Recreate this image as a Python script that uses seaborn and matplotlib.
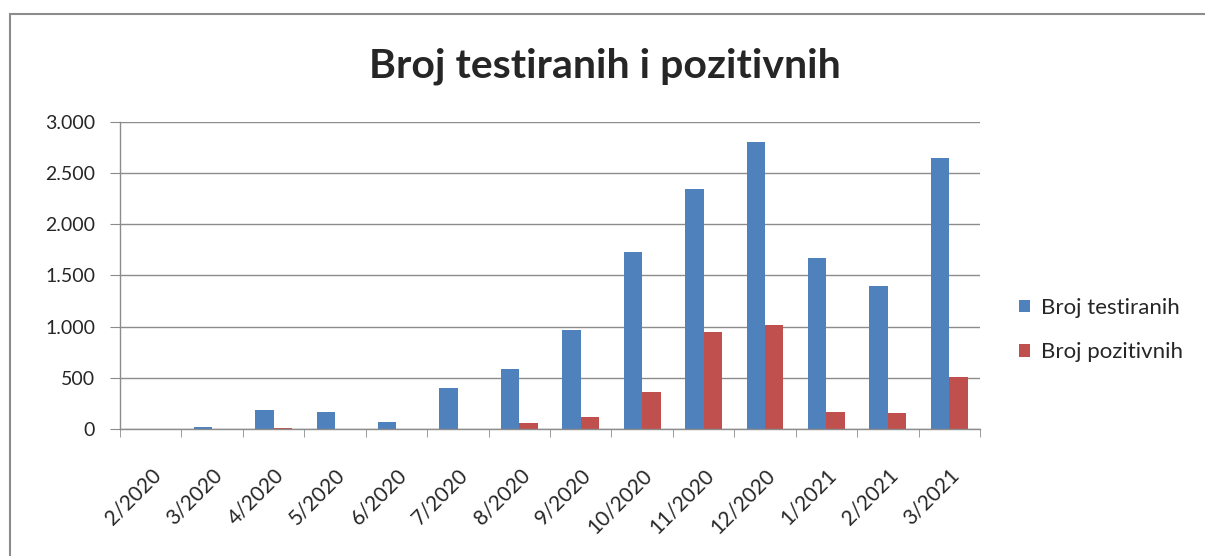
import matplotlib
matplotlib.use("Agg")
import matplotlib.pyplot as plt
import numpy as np
import pandas as pd
import seaborn as sns
from matplotlib.patches import Rectangle
from matplotlib.ticker import FixedLocator, FuncFormatter

months = ["2/2020", "3/2020", "4/2020", "5/2020", "6/2020", "7/2020", "8/2020",
          "9/2020", "10/2020", "11/2020", "12/2020", "1/2021", "2/2021", "3/2021"]
testirani = [0, 15, 185, 163, 65, 403, 586, 967, 1726, 2342, 2807, 1668, 1400, 2651]
pozitivni = [0, 2, 12, 3, 2, 3, 55, 120, 365, 945, 1016, 163, 153, 511]
series_names = ["Broj testiranih", "Broj pozitivnih"]
colors = ["#4F81BD", "#C0504D"]

df = pd.DataFrame({
    "mjesec": months * 2,
    "vrijednost": testirani + pozitivni,
    "serija": [series_names[0]] * len(months) + [series_names[1]] * len(months),
})

sns.set_style("white")
plt.rcParams["font.family"] = ["Lato", "DejaVu Sans"]

fig = plt.figure(figsize=(12.05, 5.56), dpi=100)
ax = fig.add_axes([0.0996, 0.2284, 0.7137, 0.5522])

sns.barplot(data=df, x="mjesec", y="vrijednost", hue="serija", palette=colors,
            width=0.6, saturation=1, linewidth=0, ax=ax, legend=True)

ax.set_ylim(0, 3000)
ax.set_xlim(-0.5, len(months) - 0.5)
ax.set_yticks(np.arange(0, 3001, 500))
ax.yaxis.set_major_formatter(FuncFormatter(lambda v, _: f"{int(v):,}".replace(",", ".")))
ax.grid(axis="y", color="#8c8c8c", linewidth=1)
ax.set_axisbelow(True)

ax.set_xlabel("")
ax.set_ylabel("")
ax.tick_params(axis="x", length=0, labelsize=15, pad=26)
ax.tick_params(axis="y", length=7, color="#8c8c8c", labelsize=14, left=True, pad=11)
for lbl in ax.get_xticklabels():
    lbl.set_rotation(45)
    lbl.set_ha("right")
    lbl.set_rotation_mode("anchor")
ax.xaxis.set_minor_locator(FixedLocator(np.arange(-0.5, len(months), 1)))
ax.tick_params(axis="x", which="minor", length=6, color="#8c8c8c", bottom=True)

for side in ["top", "right"]:
    ax.spines[side].set_visible(False)
for side in ["left", "bottom"]:
    ax.spines[side].set_color("#8c8c8c")
    ax.spines[side].set_linewidth(1)

fig.text(0.502, 0.8615, "Broj testiranih i pozitivnih", ha="center", va="baseline",
         fontsize=29.5, fontweight="bold")

leg = ax.legend(loc="center left", bbox_to_anchor=(1.022, 0.322), frameon=False,
                fontsize=16, handlelength=0.5, handleheight=0.5,
                handletextpad=0.5, labelspacing=1.1)

# only the top and left edges of the chart frame are visible in the crop
fig.patches.append(Rectangle((0.008, -0.1), 1.2, 1.075, transform=fig.transFigure,
                             fill=False, edgecolor="#8c8c8c", linewidth=1.5))

fig.savefig("out.png", dpi=100)
